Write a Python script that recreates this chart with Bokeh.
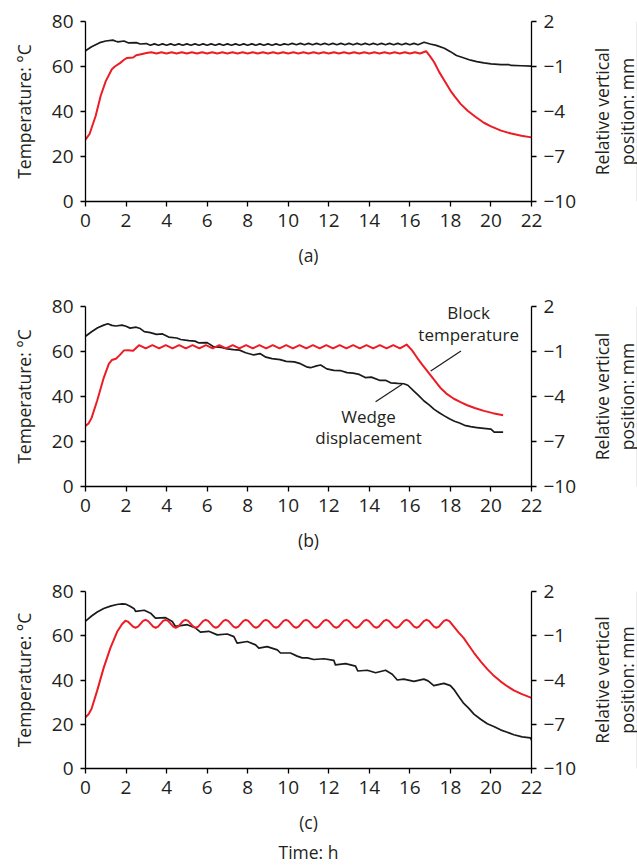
from bokeh.plotting import figure
from bokeh.layouts import column, row
from bokeh.models import Range1d, LinearAxis, FixedTicker
from bokeh.core.properties import value
from bokeh.embed import file_html
from bokeh.resources import INLINE

# ---------------- data ----------------
TIME_TICKS = [0, 2, 4, 6, 8, 10, 12, 14, 16, 18, 20, 22]
TEMP_TICKS = [0, 20, 40, 60, 80]
POS_TICKS = [-10, -7, -4, -1, 2]
POS_TICK_LABELS = ["\u221210", "\u22127", "\u22124", "\u22121", "2"]
PANEL_LABELS = ["(a)", "(b)", "(c)"]
TIME_LABEL = "Time: h"
LEFT_LABEL = "Temperature: \u00b0C"
RIGHT_LABEL_LINES = ["Relative vertical", "position: mm"]

# panel (a)
A_TEMP_T = [0, 0.2, 0.5, 0.75, 1.0, 1.3, 1.45, 1.7, 1.9, 2.05, 2.35, 2.5, 2.8, 3.0,
            3.25, 3.5, 3.75, 4.0, 4.25, 4.5, 4.75, 5.0, 5.25, 5.5, 5.75, 6.0, 6.25, 6.5,
            6.75, 7.0, 7.25, 7.5, 7.75, 8.0, 8.25, 8.5, 8.75, 9.0, 9.25, 9.5, 9.75, 10.0,
            10.25, 10.5, 10.75, 11.0, 11.25, 11.5, 11.75, 12.0, 12.25, 12.5, 12.75, 13.0,
            13.25, 13.5, 13.75, 14.0, 14.25, 14.5, 14.75, 15.0, 15.25, 15.5, 15.75, 16.0,
            16.25, 16.5,
            16.8, 17.0, 17.2, 17.45, 17.7, 18.0, 18.2, 18.5, 18.85, 19.2, 19.65, 20.0,
            20.5, 21.0, 21.5, 22.0]
A_TEMP_C = [27.5, 30.0, 38.0, 47.0, 53.5, 58.8, 60.0, 61.5, 63.0, 63.8, 64.0, 65.0, 65.6, 66.0,
            66.3, 65.8, 66.3, 65.8, 66.3, 65.8,
            66.3, 65.8, 66.3, 65.8, 66.3, 65.8,
            66.3, 65.8, 66.3, 65.8, 66.3, 65.8,
            66.3, 65.8, 66.3, 65.8, 66.3, 65.8,
            66.3, 65.8, 66.3, 65.8, 66.3, 65.8,
            66.3, 65.8, 66.3, 65.8, 66.3, 65.8,
            66.3, 65.8, 66.3, 65.8, 66.3, 65.8,
            66.3, 65.8, 66.3, 65.8, 66.3, 65.8,
            66.3, 65.8, 66.3, 65.8, 66.3, 65.8,
            66.8, 64.5, 61.9, 57.5, 53.8, 49.3, 46.8, 43.4, 40.3, 37.9, 35.0, 33.4,
            31.5, 30.2, 29.2, 28.5]
A_DISP_T = [0, 0.3, 0.7, 1.0, 1.35, 1.5, 1.6, 1.9, 2.1, 2.5, 2.7, 3.0,
            3.2, 3.4, 3.6, 3.8, 4.0, 4.2, 4.4, 4.6, 4.8, 5.0,
            5.2, 5.4, 5.6, 5.8, 6.0, 6.2, 6.4, 6.6, 6.8, 7.0,
            7.2, 7.4, 7.6, 7.8, 8.0, 8.2, 8.4, 8.6, 8.8, 9.0,
            9.2, 9.4, 9.6, 9.8, 10.0, 10.2, 10.4, 10.6, 10.8, 11.0,
            11.2, 11.4, 11.6, 11.8, 12.0, 12.2, 12.4, 12.6, 12.8, 13.0,
            13.2, 13.4, 13.6, 13.8, 14.0, 14.2, 14.4, 14.6, 14.8, 15.0,
            15.2, 15.4, 15.6, 15.8, 16.0, 16.2, 16.4,
            16.7, 17.0, 17.3, 17.7, 18.0, 18.3, 18.6, 19.0, 19.3, 19.65, 20.0, 20.5,
            20.9, 21.0, 21.5, 22.0]
A_DISP_MM = [0.05, 0.32, 0.59, 0.70, 0.76, 0.68, 0.64, 0.70, 0.58, 0.59, 0.50, 0.53,
             0.42, 0.51, 0.42, 0.51, 0.42, 0.51, 0.42, 0.51, 0.42, 0.51,
             0.42, 0.51, 0.42, 0.51, 0.42, 0.51, 0.42, 0.51, 0.42, 0.51,
             0.42, 0.51, 0.42, 0.51, 0.42, 0.51, 0.42, 0.51, 0.42, 0.51,
             0.42, 0.51, 0.42, 0.51, 0.45, 0.54, 0.45, 0.54, 0.45, 0.54,
             0.45, 0.54, 0.45, 0.54, 0.45, 0.54, 0.45, 0.54, 0.45, 0.54,
             0.45, 0.54, 0.45, 0.54, 0.45, 0.54, 0.45, 0.54, 0.45, 0.54,
             0.45, 0.54, 0.45, 0.54, 0.45, 0.54, 0.45,
             0.62, 0.50, 0.41, 0.22, -0.01, -0.27, -0.40, -0.58, -0.67, -0.76, -0.82, -0.88,
             -0.88, -0.93, -0.95, -0.97]

# panel (b)
B_TEMP_T = [0, 0.15, 0.3, 0.57, 0.9, 1.15, 1.3, 1.5, 1.7, 1.9, 2.1, 2.35,
            2.64, 2.97, 3.30, 3.63, 3.96, 4.29, 4.62, 4.95, 5.28, 5.61,
            5.94, 6.27, 6.60, 6.93, 7.26, 7.59, 7.92, 8.25, 8.58, 8.91,
            9.24, 9.57, 9.90, 10.23, 10.56, 10.89, 11.22, 11.55, 11.88, 12.21,
            12.54, 12.87, 13.20, 13.53, 13.86, 14.19, 14.52, 14.85, 15.18, 15.51,
            15.84,
            16.1, 16.36, 16.6, 16.86, 17.2, 17.5, 17.8, 18.17, 18.5, 18.83, 19.2, 19.65,
            20.1, 20.6]
B_TEMP_C = [26.9, 28.0, 30.5, 38.0, 48.3, 54.5, 56.2, 56.8, 58.5, 60.5, 60.6, 60.3,
            62.8, 61.4, 62.8, 61.4, 62.8, 61.4, 62.8, 61.4, 62.8, 61.4,
            62.8, 61.4, 62.8, 61.4, 62.8, 61.4, 62.8, 61.4, 62.8, 61.4,
            62.8, 61.4, 62.8, 61.4, 62.8, 61.4, 62.8, 61.4, 62.8, 61.4,
            62.8, 61.4, 62.8, 61.4, 62.8, 61.4, 62.8, 61.4, 62.8, 61.4,
            63.1,
            60.6, 57.2, 54.3, 51.3, 47.4, 43.9, 41.3, 39.0, 37.5, 36.1, 34.9, 33.6,
            32.6, 31.7]
B_DISP_T = [0.0, 0.3, 0.6, 0.9, 1.1, 1.3, 1.5, 1.8, 2.0, 2.2, 2.5, 2.7, 2.9, 3.2, 3.5,
            3.8, 4.1, 4.5, 4.7, 5.1, 5.4, 5.6, 6.0, 6.3, 6.7, 7.0, 7.3, 7.6, 7.9, 8.3,
            8.6, 8.9, 9.2, 9.6, 9.9, 10.3, 10.6, 10.9, 11.1, 11.4, 11.6, 11.9, 12.25, 12.6,
            12.9, 13.2, 13.5, 13.8, 14.1, 14.5, 14.8, 15.05, 15.4, 15.7, 15.9, 16.2, 16.45,
            16.7, 16.95, 17.2, 17.45, 17.7, 17.95, 18.2, 18.45, 18.7, 19.0, 19.3, 19.65,
            20.0, 20.16, 20.6]
B_DISP_MM = [0.02, 0.32, 0.58, 0.76, 0.85, 0.74, 0.70, 0.76, 0.68, 0.56, 0.62, 0.53, 0.32, 0.26, 0.14,
             0.17, -0.04, -0.10, -0.20, -0.28, -0.31, -0.43, -0.41, -0.67, -0.73, -0.82, -0.88, -0.91, -1.08, -1.23,
             -1.14, -1.38, -1.48, -1.54, -1.66, -1.69, -1.81, -2.02, -2.08, -1.96, -1.90, -2.16, -2.26, -2.28,
             -2.41, -2.44, -2.53, -2.74, -2.71, -2.92, -2.92, -3.09, -3.13, -3.15, -3.25, -3.64, -3.96,
             -4.30, -4.56, -4.86, -5.08, -5.29, -5.49, -5.65, -5.77, -5.92, -6.01, -6.07, -6.13,
             -6.18, -6.37, -6.37]

# panel (c)
C_TEMP_T = [0, 0.15, 0.3, 0.58, 0.9, 1.23, 1.56, 1.8, 1.97,
            2.09, 2.35, 2.47, 2.59, 2.84, 2.96,
            3.08, 3.34, 3.46, 3.58, 3.83, 3.95,
            4.07, 4.33, 4.45, 4.57, 4.82, 4.94,
            5.06, 5.32, 5.44, 5.56, 5.81, 5.93,
            6.05, 6.31, 6.43, 6.55, 6.80, 6.92,
            7.04, 7.30, 7.42, 7.54, 7.79, 7.91,
            8.03, 8.29, 8.41, 8.53, 8.78, 8.90,
            9.02, 9.28, 9.40, 9.52, 9.77, 9.89,
            10.01, 10.27, 10.39, 10.51, 10.76, 10.88,
            11.00, 11.26, 11.38, 11.50, 11.75, 11.87,
            11.99, 12.25, 12.37, 12.49, 12.74, 12.86,
            12.98, 13.24, 13.36, 13.48, 13.73, 13.85,
            13.97, 14.23, 14.35, 14.47, 14.72, 14.84,
            14.96, 15.22, 15.34, 15.46, 15.71, 15.83,
            15.95, 16.21, 16.33, 16.45, 16.70, 16.82,
            16.94, 17.19, 17.31, 17.43, 17.68, 17.80,
            17.95, 18.17, 18.4, 18.66, 18.9, 19.16, 19.5, 19.82, 20.1, 20.47, 20.8, 21.13,
            21.5, 22.0]
C_TEMP_C = [23.2, 24.5, 27.0, 35.3, 45.6, 54.5, 61.8, 65.2, 66.8,
            66.4, 64.1, 63.6, 64.1, 66.7, 67.2,
            66.7, 64.1, 63.6, 64.1, 66.7, 67.2,
            66.7, 64.1, 63.6, 64.1, 66.7, 67.2,
            66.7, 64.1, 63.6, 64.1, 66.7, 67.2,
            66.7, 64.1, 63.6, 64.1, 66.7, 67.2,
            66.7, 64.1, 63.6, 64.1, 66.7, 67.2,
            66.7, 64.1, 63.6, 64.1, 66.7, 67.2,
            66.7, 64.1, 63.6, 64.1, 66.7, 67.2,
            66.7, 64.1, 63.6, 64.1, 66.7, 67.2,
            66.7, 64.1, 63.6, 64.1, 66.7, 67.2,
            66.7, 64.1, 63.6, 64.1, 66.7, 67.2,
            66.7, 64.1, 63.6, 64.1, 66.7, 67.2,
            66.7, 64.1, 63.6, 64.1, 66.7, 67.2,
            66.7, 64.1, 63.6, 64.1, 66.7, 67.2,
            66.7, 64.1, 63.6, 64.1, 66.7, 67.2,
            66.7, 64.1, 63.6, 64.1, 66.7, 67.2,
            66.6, 64.1, 61.5, 58.9, 55.7, 52.3, 48.3, 44.9, 42.3, 39.4, 37.2, 35.3,
            33.7, 31.9]
C_DISP_T = [0, 0.3, 0.58, 0.9, 1.23, 1.55, 1.81, 1.97, 2.2, 2.4, 2.47, 2.9, 3.21, 3.45,
            3.95, 4.28, 4.44, 5.02, 5.43, 5.67, 6.08, 6.5, 6.99, 7.32, 7.48, 7.98, 8.39,
            8.55, 8.96, 9.46, 9.62, 10.11, 10.44, 10.69, 10.94, 11.26, 11.76, 12.25, 12.33,
            12.83, 13.32, 13.43, 13.9, 14.31, 14.8, 15.13, 15.38, 15.7, 16.2, 16.69, 16.9,
            17.18, 17.68, 18.0, 18.2, 18.42, 18.66, 18.91, 19.16, 19.49, 19.82, 20.14,
            20.47, 20.8, 21.13, 21.54, 21.95, 22.0]
C_DISP_MM = [-0.01, 0.34, 0.61, 0.85, 1.01, 1.12, 1.16, 1.15, 1.00, 0.83, 0.65, 0.73, 0.53, 0.19,
             0.23, -0.04, -0.37, -0.25, -0.48, -0.75, -0.70, -0.94, -0.88, -1.06, -1.50, -1.39, -1.62,
             -1.84, -1.74, -1.96, -2.17, -2.17, -2.38, -2.50, -2.50, -2.61, -2.56, -2.67, -2.98,
             -2.89, -3.06, -3.39, -3.34, -3.51, -3.34, -3.61, -4.00, -3.94, -4.09, -3.94, -4.06,
             -4.38, -4.23, -4.38, -4.69, -5.13, -5.59, -5.92, -6.31, -6.66, -6.97, -7.15,
             -7.38, -7.54, -7.71, -7.86, -7.92, -8.07]

# annotations of panel (b)
ANNOT_TEXT = ["Block", "temperature", "Wedge", "displacement"]
ANNOT_T = [18.9, 18.9, 13.96, 13.96]
ANNOT_C = [77.2, 67.5, 31.3, 21.9]
BLOCK_LEADER_T = [17.03, 18.52]
BLOCK_LEADER_C = [51.3, 60.2]
WEDGE_LEADER_T = [14.31, 15.62]
WEDGE_LEADER_C = [37.7, 45.4]

# ---------------- style ----------------
FONT = "Open Sans"
TXT = "#231f20"
RED = "#ed1c24"
BLACK = "#1a1a1a"
TICK_FS = "19px"
LABEL_FS = "17.5px"
MAIN_W = 581
SIDE_W = 56


def style_axis(ax, label_standoff):
    ax.axis_line_color = "black"
    ax.axis_line_width = 1.3
    ax.major_tick_line_color = "black"
    ax.major_tick_line_width = 1.3
    ax.major_tick_in = 0
    ax.major_tick_out = 5
    ax.minor_tick_line_color = None
    ax.major_label_text_font = FONT
    ax.major_label_text_font_size = TICK_FS
    ax.major_label_text_color = TXT
    ax.major_label_standoff = 7
    ax.axis_label_text_font = FONT
    ax.axis_label_text_font_size = LABEL_FS
    ax.axis_label_text_font_style = "normal"
    ax.axis_label_text_color = TXT
    ax.axis_label_standoff = label_standoff


def blank_axis(label, label_standoff, **kw):
    ax = LinearAxis(ticker=FixedTicker(ticks=[]), axis_label=label, **kw)
    style_axis(ax, label_standoff)
    ax.axis_line_color = None
    ax.major_tick_line_color = None
    ax.major_tick_out = 0
    ax.major_label_standoff = 0
    return ax


def make_panel(label, temp_t, temp_c, disp_t, disp_mm, height, bottom, time_label=None):
    p = figure(width=MAIN_W, height=height, x_range=Range1d(0, 22), y_range=Range1d(0, 80),
               output_backend="svg", toolbar_location=None,
               min_border_left=85, min_border_right=50, min_border_top=21,
               min_border_bottom=bottom)
    p.outline_line_color = None
    p.xgrid.visible = False
    p.ygrid.visible = False
    p.extra_y_ranges = {"pos": Range1d(-10, 2)}

    xa = p.xaxis[0]
    xa.ticker = FixedTicker(ticks=TIME_TICKS)
    xa.axis_label = label
    style_axis(xa, 13)

    ya = p.yaxis[0]
    ya.ticker = FixedTicker(ticks=TEMP_TICKS)
    ya.axis_label = LEFT_LABEL
    style_axis(ya, 13)

    r1 = LinearAxis(y_range_name="pos", ticker=FixedTicker(ticks=POS_TICKS),
                    major_label_overrides=dict(zip(POS_TICKS, POS_TICK_LABELS)))
    style_axis(r1, 0)
    p.add_layout(r1, "right")

    if time_label:
        p.add_layout(blank_axis(time_label, 3), "below")

    p.line(disp_t, disp_mm, y_range_name="pos", line_color=BLACK, line_width=1.7,
           line_join="round")
    p.line(temp_t, temp_c, line_color=RED, line_width=2.0, line_join="round")

    # side strip carrying the two-line right-hand axis title (reads bottom-up)
    s = figure(width=SIDE_W, height=height, x_range=Range1d(0, 1), y_range=Range1d(-10, 2),
               output_backend="svg", toolbar_location=None,
               x_axis_location=None, y_axis_location=None,
               min_border_left=SIDE_W - 1, min_border_right=0, min_border_top=21,
               min_border_bottom=bottom)
    s.outline_line_color = None
    s.add_layout(blank_axis(RIGHT_LABEL_LINES[1], -2), "left")
    s.add_layout(blank_axis(RIGHT_LABEL_LINES[0], -2), "left")
    return row(p, s)


pa = make_panel(PANEL_LABELS[0], A_TEMP_T, A_TEMP_C, A_DISP_T, A_DISP_MM, 285, 84)
pb = make_panel(PANEL_LABELS[1], B_TEMP_T, B_TEMP_C, B_DISP_T, B_DISP_MM, 285, 84)
pc = make_panel(PANEL_LABELS[2], C_TEMP_T, C_TEMP_C, C_DISP_T, C_DISP_MM, 296, 95,
                time_label=TIME_LABEL)

fb = pb.children[0]
fb.line(BLOCK_LEADER_T, BLOCK_LEADER_C, line_color=BLACK, line_width=1.2)
fb.line(WEDGE_LEADER_T, WEDGE_LEADER_C, line_color=BLACK, line_width=1.2)
fb.text(x=ANNOT_T, y=ANNOT_C, text=ANNOT_TEXT, text_font=value(FONT),
        text_font_size=value("17px"), text_align="center",
        text_baseline="alphabetic", text_color=TXT)

layout = column(pa, pb, pc)
open("out.html", "w").write(file_html(layout, INLINE))
